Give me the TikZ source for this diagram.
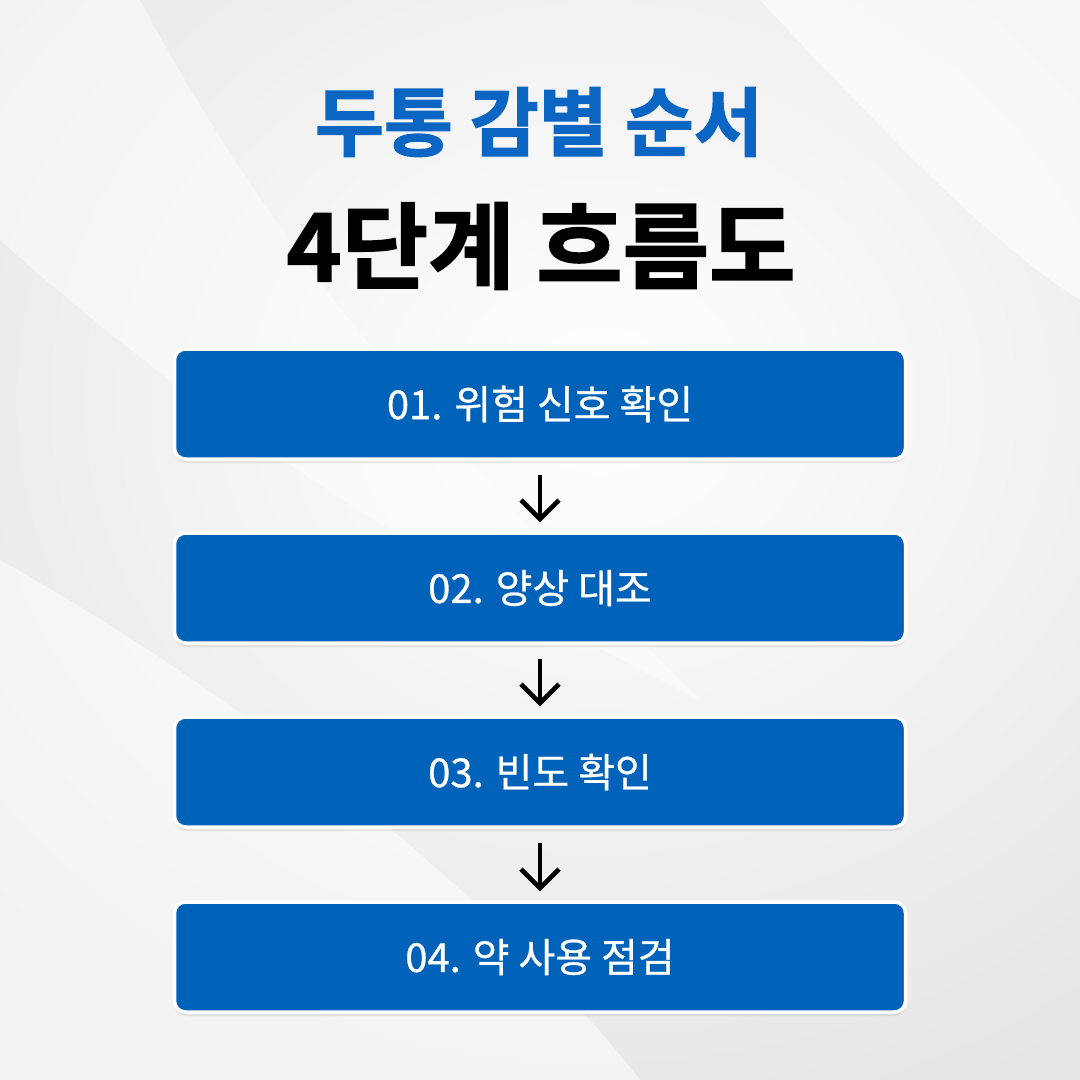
\documentclass[tikz,border=0pt]{standalone}
\usepackage{fontspec}
\newfontfamily\kr{Noto Sans CJK KR}
\newfontfamily\krmed[FakeBold=0.7]{Noto Sans CJK KR}
\newfontfamily\krblack[FakeBold=1.6]{Noto Sans CJK KR Bold}
\usetikzlibrary{arrows.meta,shadows}
\definecolor{boxblue}{HTML}{0062B8}
\definecolor{titleblue}{HTML}{0A66C2}
\tikzset{
  stepbox/.style={draw=white, line width=3.5pt, fill=boxblue, rounded corners=11pt,
    minimum width=731pt, minimum height=110pt, inner sep=0pt,
    font=\krmed\fontsize{40}{46}\selectfont, text=white,
    drop shadow={opacity=0.15, shadow xshift=0pt, shadow yshift=-4pt}},
  flow/.style={draw=black, line width=4.6pt,
    -{Straight Barb[length=19pt,width=38pt,line width=4.6pt]},
    shorten <=14pt, shorten >=9pt}
}
\begin{document}
\begin{tikzpicture}[x=1pt,y=-1pt]
  \useasboundingbox (0,0) rectangle (1080,1080);
  % background
  \shade[inner color=white, outer color=black!10] (-250,-350) rectangle (1450,1150);
  \fill[white, opacity=0.5] (0,560) .. controls (250,700) and (500,900) .. (640,1080) -- (0,1080) -- cycle;
  \fill[white, opacity=0.45] (0,240) .. controls (200,420) and (420,560) .. (700,700)
     .. controls (500,500) and (300,300) .. (140,0) -- (0,0) -- cycle;
  \fill[white, opacity=0.6] (760,0) .. controls (900,150) and (1000,250) .. (1080,300) -- (1080,0) -- cycle;
  % titles
  \node[font=\krblack\fontsize{75}{80}\selectfont, text=titleblue] (t1) at (539,122) {두통 감별 순서};
  \node[font=\krblack\fontsize{94}{100}\selectfont, text=black] (t2) at (541,246) {4단계 흐름도};
  % boxes
  \node[stepbox] (b1) at (540,404) {01. 위험 신호 확인};
  \node[stepbox] (b2) at (540,588) {02. 양상 대조};
  \node[stepbox] (b3) at (540,772) {03. 빈도 확인};
  \node[stepbox] (b4) at (540,957) {04. 약 사용 점검};
  % arrows
  \draw[flow] (b1.south) -- (b2.north);
  \draw[flow] (b2.south) -- (b3.north);
  \draw[flow] (b3.south) -- (b4.north);
\end{tikzpicture}
\end{document}
